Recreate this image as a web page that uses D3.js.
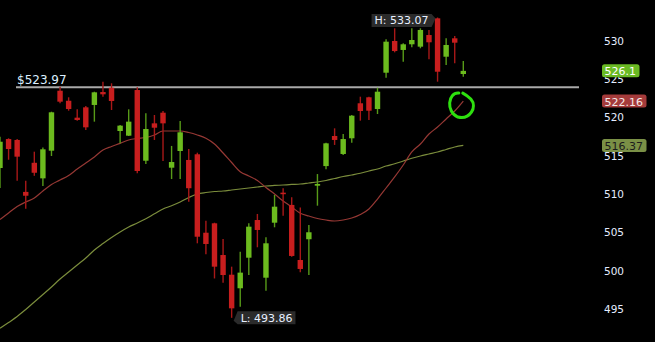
<!DOCTYPE html>
<html>
<head>
<meta charset="utf-8">
<script src="https://cdn.jsdelivr.net/npm/d3@7"></script>
<style>
  html, body { margin: 0; padding: 0; background: #000; }
  svg { display: block; }
  text { font-family: "DejaVu Sans", Verdana, sans-serif; }
</style>
</head>
<body>
<div id="chart"></div>
<script>
// chart size
var width = 655, height = 342;

// candle data, oldest first
var opens = [513.42, 517.2, 517.08, 510.3, 514.1, 512.07, 515.68, 523.51, 522.2, 519.99, 521.34, 521.65, 523.34, 523.9, 518.25, 517.64, 523.6, 514.37, 519.25, 520.64, 513.46, 515.64, 514.47, 515.21, 504.97, 506.2, 502.06, 499.49, 497.72, 501.71, 506.63, 499.1, 506.28, 510.2, 508.6, 501.41, 504.12, 511.11, 513.67, 517.6, 515.25, 517.3, 521.87, 522.65, 521.12, 525.86, 530.0, 528.83, 529.57, 529.26, 530.78, 532.96, 527.95, 530.35, 525.69];
var highs = [517.5, 517.3, 517.2, 511.77, 515.55, 516.1, 520.77, 524.03, 522.65, 521.08, 521.5, 523.38, 524.69, 524.48, 519.04, 521.08, 523.96, 520.56, 520.34, 520.86, 516.3, 519.56, 515.9, 515.42, 506.54, 506.28, 504.15, 500.54, 502.5, 506.2, 507.42, 504.37, 509.9, 510.77, 509.6, 508.25, 505.98, 512.63, 516.72, 518.6, 517.86, 520.34, 522.73, 522.73, 523.9, 530.22, 531.66, 529.7, 531.66, 531.66, 531.44, 533.07, 530.35, 530.65, 527.39];
var lows = [510.8, 514.5, 511.76, 508.1, 512.4, 511.07, 514.99, 521.87, 520.9, 519.6, 518.38, 519.47, 522.73, 520.99, 516.65, 517.6, 512.73, 513.94, 517.08, 514.33, 511.98, 511.98, 509.0, 503.59, 502.15, 499.0, 498.45, 493.86, 495.3, 499.45, 503.07, 497.4, 505.68, 507.2, 501.85, 499.8, 499.45, 508.5, 513.25, 516.43, 515.12, 516.72, 519.6, 519.69, 520.47, 525.21, 528.52, 527.3, 529.18, 529.05, 527.61, 524.69, 526.87, 527.09, 525.34];
var closes = [516.85, 515.9, 514.9, 509.8, 512.8, 515.86, 520.69, 522.08, 521.12, 519.69, 518.73, 523.3, 523.04, 522.17, 518.95, 519.47, 513.03, 518.51, 518.68, 519.25, 514.2, 518.08, 510.78, 504.45, 503.5, 500.54, 499.45, 495.1, 499.76, 505.76, 505.33, 503.59, 508.37, 510.0, 501.94, 500.24, 505.03, 511.33, 516.64, 517.08, 517.2, 520.25, 520.86, 520.9, 523.38, 529.91, 528.69, 529.57, 530.13, 531.44, 529.83, 525.99, 529.48, 529.78, 526.1];

// moving averages
var maFast = [506.70, 507.55, 508.39, 508.98, 509.50, 510.42, 511.27, 511.85, 512.44, 513.29, 514.07, 514.86, 515.77, 516.23, 516.64, 517.08, 517.27, 517.40, 517.73, 518.25, 518.25, 518.25, 518.05, 517.73, 517.30, 516.55, 515.38, 514.14, 512.94, 512.38, 511.79, 510.87, 510.03, 509.11, 508.33, 507.51, 507.15, 506.83, 506.63, 506.50, 506.63, 506.89, 507.35, 508.07, 509.37, 510.81, 512.25, 513.81, 515.51, 516.55, 517.86, 518.77, 519.82, 520.86, 522.16];
var maSlow = [492.49, 493.25, 494.03, 494.95, 495.93, 496.91, 497.89, 498.93, 499.84, 500.76, 501.67, 502.72, 503.56, 504.35, 505.07, 505.72, 506.24, 506.80, 507.44, 508.07, 508.50, 508.98, 509.57, 510.03, 510.22, 510.35, 510.42, 510.55, 510.68, 510.81, 510.94, 511.07, 511.14, 511.20, 511.27, 511.33, 511.46, 511.59, 511.79, 512.05, 512.31, 512.51, 512.73, 513.03, 513.29, 513.68, 513.97, 514.33, 514.69, 514.99, 515.25, 515.51, 515.84, 516.16, 516.37];

var tickValues = [495, 500, 505, 510, 515, 520, 525, 530];
var alertLevel = 523.97;

var svg = d3.select("#chart").append("svg")
    .attr("width", width)
    .attr("height", height);

svg.append("rect").attr("width", width).attr("height", height).attr("fill", "#000");

// set the ranges
var x = d3.scaleLinear().domain([0, opens.length - 1]).range([0, 463.3]);
var y = d3.scaleLinear().domain([495, 530]).range([309.1, 41]);

var candleW = 5.4;
var red = "#c81e1e", green = "#6cbb1e";

// y axis on the right
var axis = svg.append("g")
    .attr("transform", "translate(601,0)")
    .call(d3.axisRight(y).tickValues(tickValues).tickSize(0).tickPadding(3));
axis.select(".domain").remove();
axis.selectAll("text")
    .attr("fill", "#e4ecff")
    .style("font-size", "10.5px")
    .style("font-family", "'DejaVu Sans', Verdana, sans-serif");

// alert line
svg.append("line")
    .attr("x1", 16).attr("x2", 579)
    .attr("y1", y(alertLevel)).attr("y2", y(alertLevel))
    .attr("stroke", "#a9a9a9").attr("stroke-width", 2);
svg.append("text")
    .attr("x", 17).attr("y", y(alertLevel) - 3.5)
    .attr("fill", "#dcefff")
    .style("font-size", "12px")
    .text("$" + alertLevel.toFixed(2));

// moving averages
var line = function(arr) {
    return d3.line()
        .x(function(d, i) { return x(i); })
        .y(function(d) { return y(d); })
        .curve(d3.curveMonotoneX)(arr);
};
svg.append("path").attr("d", line(maSlow))
    .attr("fill", "none").attr("stroke", "#7b8d3c").attr("stroke-width", 1.2);
svg.append("path").attr("d", line(maFast))
    .attr("fill", "none").attr("stroke", "#963834").attr("stroke-width", 1.2);

// candles
var data = opens.map(function(o, i) {
    return {i: i, o: o, h: highs[i], l: lows[i], c: closes[i]};
});

var candles = svg.selectAll("g.candle")
    .data(data)
    .enter().append("g")
    .attr("class", "candle");

candles.append("line")
    .attr("x1", function(d) { return x(d.i); })
    .attr("x2", function(d) { return x(d.i); })
    .attr("y1", function(d) { return y(d.h); })
    .attr("y2", function(d) { return y(d.l); })
    .attr("stroke", function(d) { return d.c >= d.o ? "#579a18" : "#a81818"; })
    .attr("stroke-width", 1.4);

candles.append("rect")
    .attr("x", function(d) { return x(d.i) - candleW / 2; })
    .attr("width", candleW)
    .attr("y", function(d) { return y(Math.max(d.o, d.c)); })
    .attr("height", function(d) { return Math.max(1.5, Math.abs(y(d.o) - y(d.c))); })
    .attr("fill", function(d) { return d.c >= d.o ? green : red; });

// high / low tags
var hiIdx = d3.maxIndex(highs), loIdx = d3.minIndex(lows);

function tag(label, px, py, side) {
    var g = svg.append("g");
    var t = g.append("text")
        .attr("fill", "#e8f0ff")
        .style("font-size", "11px")
        .text(label);
    var w = t.node().getComputedTextLength() + 6, h = 13;
    var bx = side === "left" ? px - 5 - w : px + 5;
    var by = py - h / 2;
    g.insert("path", "text")
        .attr("d", side === "left"
            ? "M" + bx + "," + by + "h" + w + "l4," + (h / 2 - 2) + "l-4," + (h / 2 + 2) + "h" + (-w) + "z"
            : "M" + (bx + w) + "," + by + "h" + (-w) + "l-4," + (h / 2 + 3) + "l4," + (h / 2 - 3) + "h" + w + "z")
        .attr("fill", "#2b2b2b");
    t.attr("x", bx + 3).attr("y", by + h - 2.5);
}
tag("H: " + highs[hiIdx].toFixed(2), x(hiIdx) - 1, y(highs[hiIdx]) + 3, "left");
tag("L: " + lows[loIdx].toFixed(2), x(loIdx) + 1, y(lows[loIdx]), "right");

// last value badges
function badge(val, fill, textFill) {
    var g = svg.append("g");
    var t = g.append("text")
        .attr("x", 604.5).attr("y", y(val) + 4.5)
        .attr("fill", textFill)
        .style("font-size", "11px")
        .text(String(val));
    var w = t.node().getComputedTextLength() + 6;
    g.insert("rect", "text")
        .attr("x", 602).attr("y", y(val) - 6.5)
        .attr("width", w).attr("height", 13)
        .attr("rx", 2.5)
        .attr("fill", fill);
}
badge(closes[closes.length - 1], "#6ab923", "#ffffff");
badge(maFast[maFast.length - 1], "#a53b3b", "#f4e8e8");
badge(maSlow[maSlow.length - 1], "#7a9046", "#1c1c1c");

// hand drawn circle round the end of the fast average
var cx = x(maFast.length - 1) - 1.5, cy = y(maFast[maFast.length - 1]) + 4;
svg.append("path")
    .attr("d", "M" + (cx - 3) + "," + (cy - 12) +
        " C" + (cx - 14) + "," + (cy - 13) + " " + (cx - 16) + "," + (cy + 7) + " " + (cx - 4) + "," + (cy + 12) +
        " C" + (cx + 8) + "," + (cy + 15) + " " + (cx + 16) + "," + (cy + 2) + " " + (cx + 9) + "," + (cy - 6) +
        " C" + (cx + 6) + "," + (cy - 9) + " " + (cx + 3) + "," + (cy - 11) + " " + (cx + 1) + "," + (cy - 12))
    .attr("fill", "none")
    .attr("stroke", "#2ee00f")
    .attr("stroke-width", 3)
    .attr("stroke-linecap", "round");
</script>
</body>
</html>
